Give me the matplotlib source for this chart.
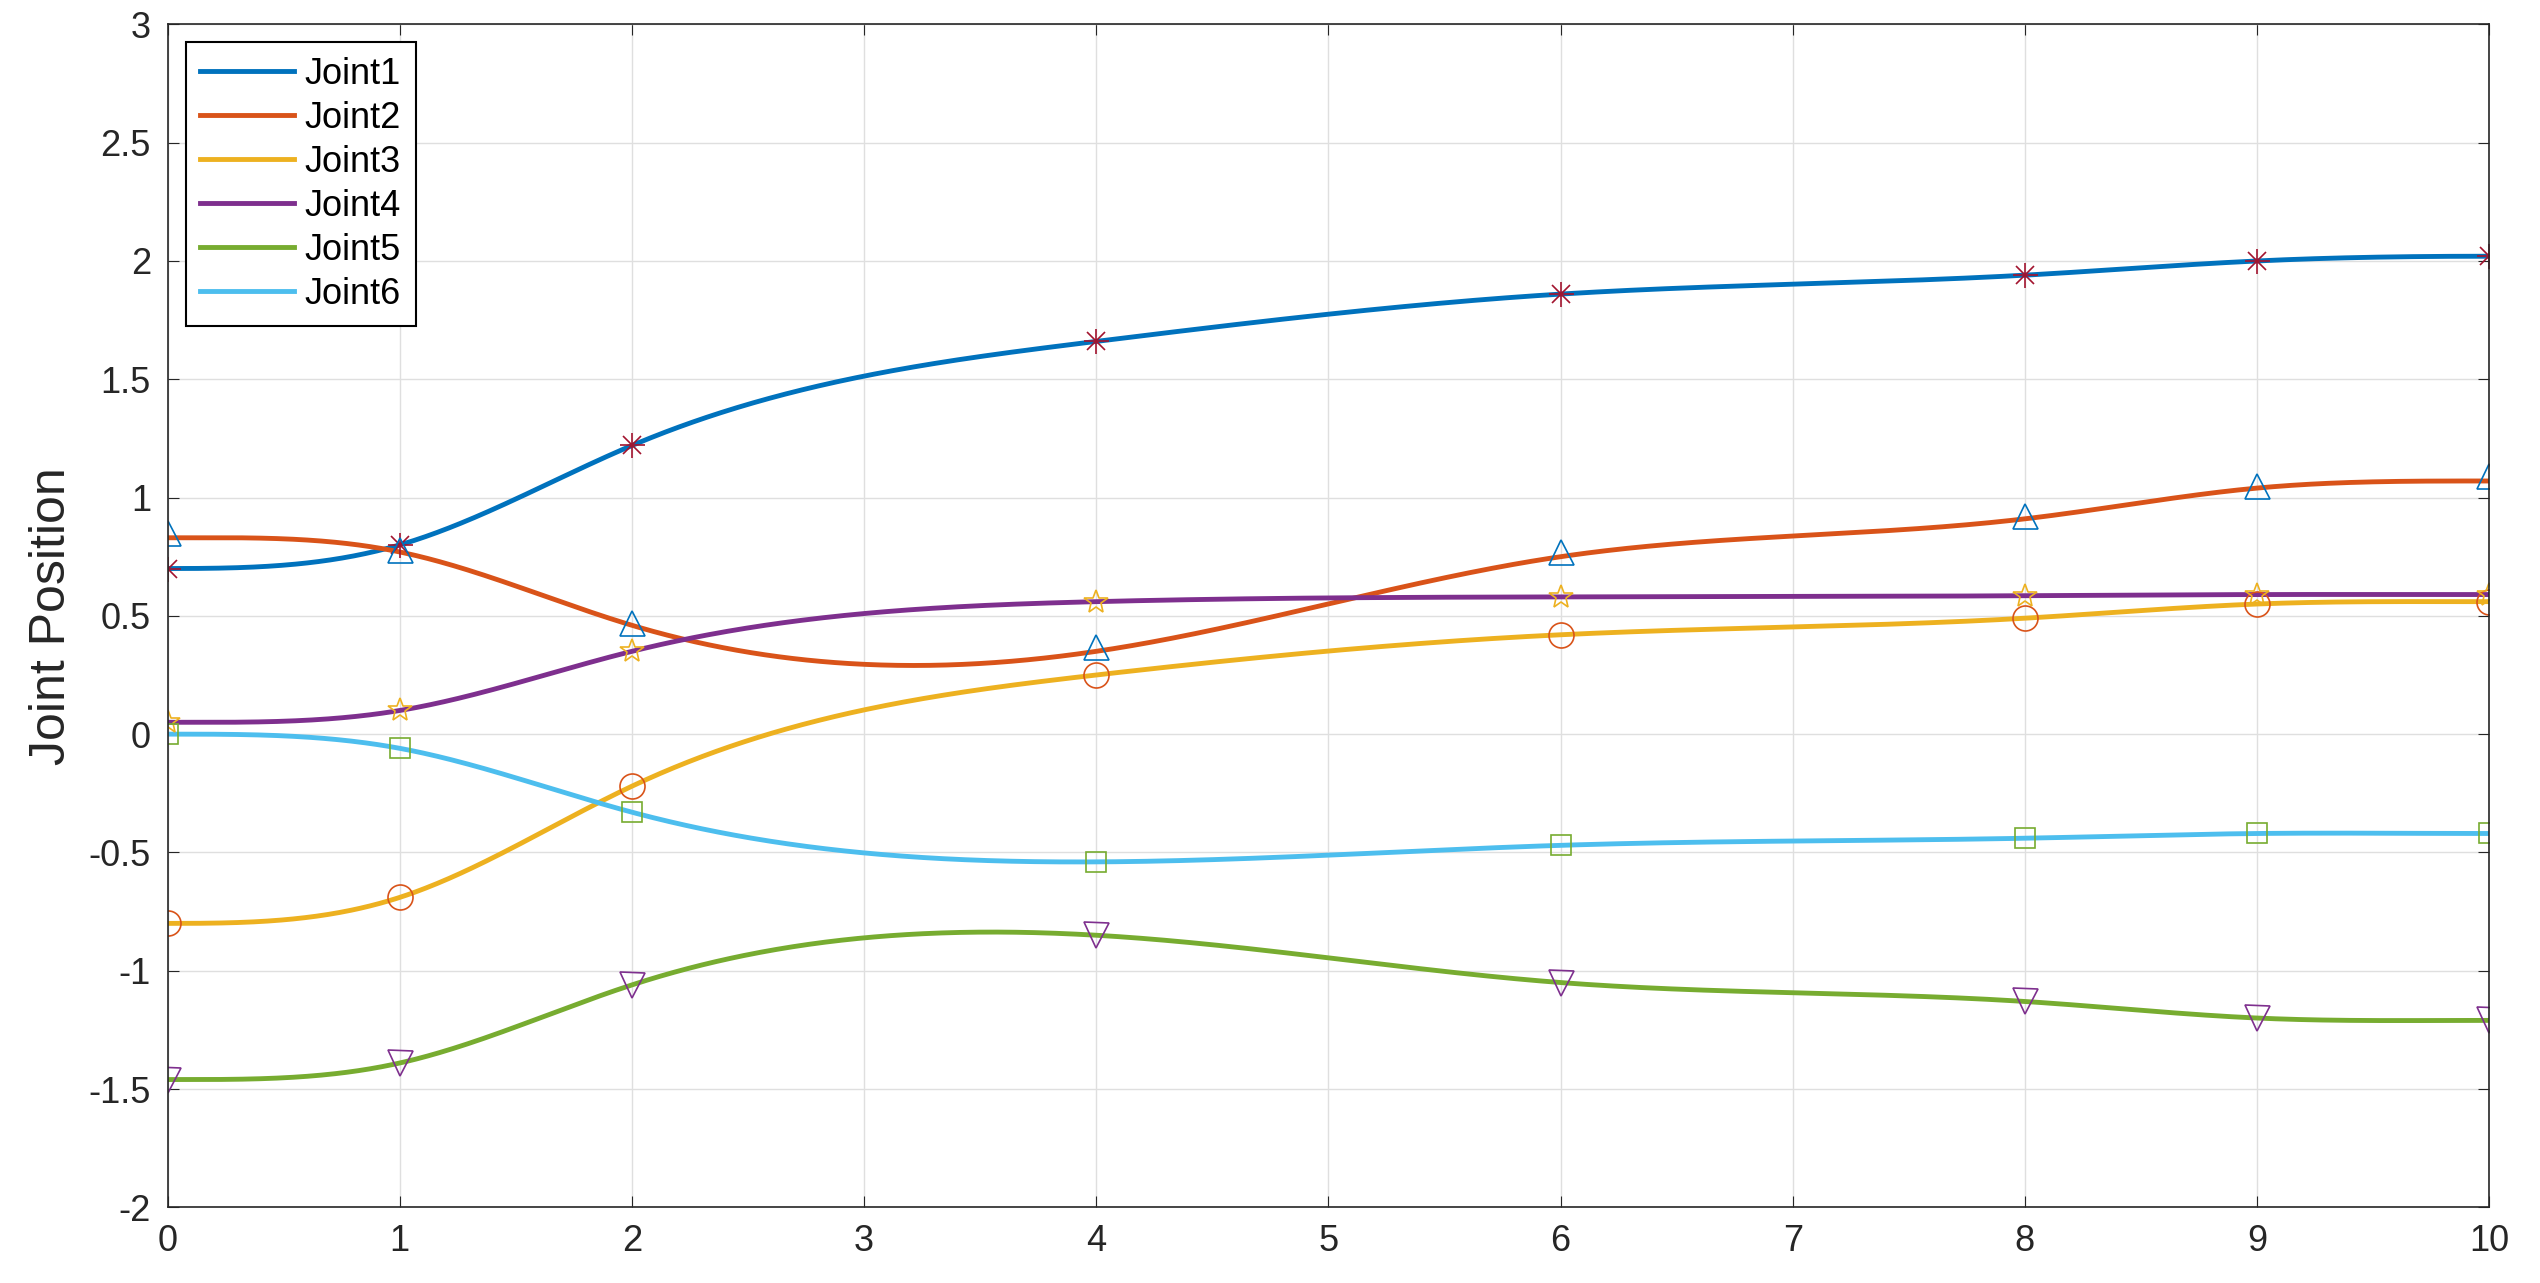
import numpy as np
import matplotlib
matplotlib.use("Agg")
import matplotlib.pyplot as plt

plt.rcParams['font.family'] = ['Liberation Sans', 'DejaVu Sans']

t_way = [0, 1, 2, 4, 6, 8, 9, 10]
joint1 = [0.70, 0.80, 1.22, 1.66, 1.86, 1.94, 2.00, 2.02]
joint2 = [0.83, 0.77, 0.46, 0.35, 0.75, 0.91, 1.04, 1.07]
joint3 = [-0.80, -0.69, -0.22, 0.25, 0.42, 0.49, 0.55, 0.56]
joint4 = [0.05, 0.10, 0.35, 0.56, 0.58, 0.585, 0.59, 0.59]
joint5 = [-1.46, -1.39, -1.06, -0.85, -1.05, -1.13, -1.20, -1.21]
joint6 = [0.0, -0.06, -0.33, -0.54, -0.47, -0.44, -0.42, -0.42]
mark2 = [0.85, 0.78, 0.47, 0.37, 0.77, 0.92, 1.05, 1.09]
labels = ['Joint1', 'Joint2', 'Joint3', 'Joint4', 'Joint5', 'Joint6']
colors = ['#0072BD', '#D95319', '#EDB120', '#7E2F8E', '#77AC30', '#4DBEEE']

def clamped_spline(x, y, xs):
    x = np.asarray(x, float); y = np.asarray(y, float)
    n = len(x); h = np.diff(x)
    A = np.zeros((n, n)); b = np.zeros(n)
    A[0, 0] = 2*h[0]; A[0, 1] = h[0]; b[0] = 3*(y[1]-y[0])/h[0]
    A[-1, -2] = h[-1]; A[-1, -1] = 2*h[-1]; b[-1] = -3*(y[-1]-y[-2])/h[-1]
    for i in range(1, n-1):
        A[i, i-1] = h[i-1]; A[i, i] = 2*(h[i-1]+h[i]); A[i, i+1] = h[i]
        b[i] = 3*((y[i+1]-y[i])/h[i] - (y[i]-y[i-1])/h[i-1])
    c = np.linalg.solve(A, b)
    bb = (y[1:]-y[:-1])/h - h*(2*c[:-1]+c[1:])/3
    d = (c[1:]-c[:-1])/(3*h)
    idx = np.clip(np.searchsorted(x, xs, side='right')-1, 0, n-2)
    dx = xs - x[idx]
    return y[idx] + bb[idx]*dx + c[idx]*dx**2 + d[idx]*dx**3

fig = plt.figure(figsize=(25.4, 12.83), dpi=100)
ax = fig.add_axes([0.066, 0.059, 0.914, 0.922])
ts = np.linspace(0, 10, 1000)
for y, lab, col in zip([joint1, joint2, joint3, joint4, joint5, joint6], labels, colors):
    ax.plot(ts, clamped_spline(t_way, y, ts), color=col, lw=3.5, label=lab)

ms = 18
ax.plot(t_way, joint1, ls='none', marker='x', color='#A2142F', ms=13, mew=1.2)
ax.plot(t_way, joint1, ls='none', marker='+', color='#A2142F', ms=18, mew=1.2)
ax.plot(t_way, mark2, ls='none', marker='^', color='#0072BD', ms=ms, mew=1.2, fillstyle='none')
ax.plot(t_way, joint3, ls='none', marker='o', color='#D95319', ms=ms, mew=1.2, fillstyle='none')
ax.plot(t_way, joint4, ls='none', marker='*', color='#EDB120', ms=ms, mew=1.2, fillstyle='none')
ax.plot(t_way, joint5, ls='none', marker='v', color='#7E2F8E', ms=ms, mew=1.2, fillstyle='none')
ax.plot(t_way, joint6, ls='none', marker='s', color='#77AC30', ms=14, mew=1.2, fillstyle='none')

ax.set_xlim(0, 10); ax.set_ylim(-2, 3)
ax.set_xticks(range(0, 11)); ax.set_yticks(np.arange(-2, 3.01, 0.5))
ax.set_yticklabels(['-2', '-1.5', '-1', '-0.5', '0', '0.5', '1', '1.5', '2', '2.5', '3'])
ax.grid(True, color='#DFDFDF', lw=1)
ax.set_axisbelow(True)
ax.tick_params(labelsize=26, direction='in', length=8, pad=12, colors='#262626', top=True, right=True, labeltop=False, labelright=False)
for s in ax.spines.values():
    s.set_color('#262626'); s.set_linewidth(1.2)
ax.set_ylabel('Joint Position', fontsize=36, color='#262626', labelpad=10)
leg = ax.legend(loc='upper left', fontsize=26, fancybox=False, edgecolor='black',
                framealpha=1, handlelength=2.6, handletextpad=0.3, borderaxespad=0.5, labelspacing=0.25)
leg.get_frame().set_linewidth(1.5)
fig.savefig('out.png', dpi=100)
